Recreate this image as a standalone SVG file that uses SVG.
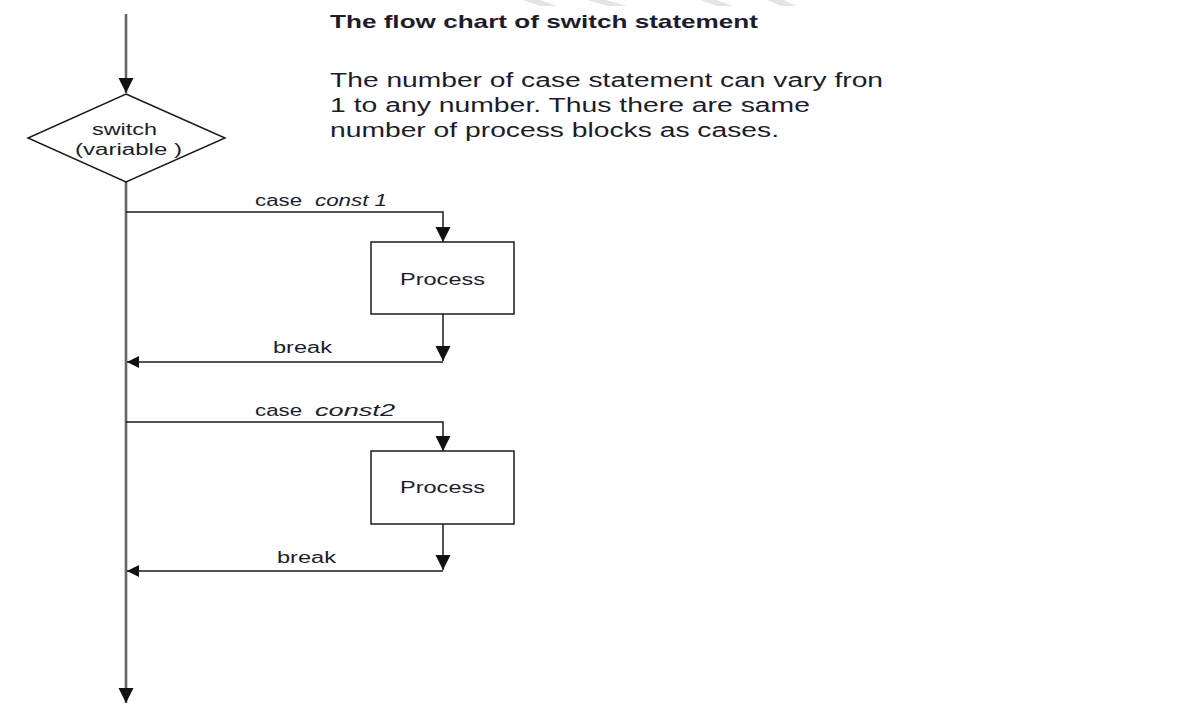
<svg xmlns="http://www.w3.org/2000/svg" width="1189" height="706" viewBox="0 0 1189 706">
  <style>
    .ln { fill: none; stroke: #1a1a1a; stroke-width: 1.5; }
    .main { fill: none; stroke: #666; stroke-width: 2.6; }
    .shape { fill: #fff; stroke: #1a1a1a; stroke-width: 1.5; }
    .t { font-family: "Liberation Sans", Arial, sans-serif; fill: #1c1c2c; }
    .lbl { font-size: 16px; }
    .it { font-style: italic; }
    .wm { fill: #e4e4e4; }
  </style>
  <defs>
    <marker id="arr" viewBox="0 0 10 10" refX="10" refY="5" markerWidth="15" markerHeight="16" markerUnits="userSpaceOnUse" orient="auto">
      <path d="M0,0 L10,5 L0,10 Z" fill="#111"/>
    </marker>
    <marker id="arrL" viewBox="0 0 10 10" refX="10" refY="5" markerWidth="22" markerHeight="12" markerUnits="userSpaceOnUse" orient="auto">
      <path d="M0,0 L10,5 L0,10 Z" fill="#111"/>
    </marker>
  </defs>
  <rect width="1189" height="706" fill="#fff"/>

  <!-- faint background marks along the top edge -->
  <g id="marks">
    <polygon class="wm" points="523,0 540,0 557,6 540,6"/>
    <polygon class="wm" points="587,0 606,0 627,6 608,6"/>
    <polygon class="wm" points="700,0 716,0 733,6 717,6"/>
    <polygon class="wm" points="767,0 783,0 797,6 781,6"/>
  </g>

  <!-- heading and note -->
  <g id="note">
    <text class="t" x="330" y="28" font-size="19" font-weight="bold" textLength="428" lengthAdjust="spacingAndGlyphs">The flow chart of switch statement</text>
    <text class="t" x="330" y="87" font-size="19.5" textLength="553" lengthAdjust="spacingAndGlyphs">The number of case statement can vary fron</text>
    <text class="t" x="330" y="112" font-size="19.5" textLength="480" lengthAdjust="spacingAndGlyphs">1 to any number. Thus there are same</text>
    <text class="t" x="330" y="137" font-size="19.5" textLength="449" lengthAdjust="spacingAndGlyphs">number of process blocks as cases.</text>
  </g>

  <!-- connectors -->
  <g id="connectors">
    <line class="main" x1="126" y1="14" x2="126" y2="93" marker-end="url(#arr)"/>
    <line class="main" x1="126" y1="182" x2="126" y2="703" marker-end="url(#arr)"/>
    <polyline class="ln" points="126,212 443,212 443,242" marker-end="url(#arr)"/>
    <line class="ln" x1="443" y1="314" x2="443" y2="361" marker-end="url(#arr)"/>
    <line class="ln" x1="443" y1="362" x2="127" y2="362" marker-end="url(#arrL)"/>
    <polyline class="ln" points="126,422 443,422 443,451" marker-end="url(#arr)"/>
    <line class="ln" x1="443" y1="524" x2="443" y2="570" marker-end="url(#arr)"/>
    <line class="ln" x1="443" y1="571" x2="127" y2="571" marker-end="url(#arrL)"/>
    <text class="t lbl" x="255" y="206" textLength="47" lengthAdjust="spacingAndGlyphs">case</text>
    <text class="t lbl it" x="315" y="206" textLength="72" lengthAdjust="spacingAndGlyphs">const 1</text>
    <text class="t lbl" x="273" y="353" textLength="59" lengthAdjust="spacingAndGlyphs">break</text>
    <text class="t lbl" x="255" y="416" textLength="47" lengthAdjust="spacingAndGlyphs">case</text>
    <text class="t lbl it" x="315" y="416" textLength="80" lengthAdjust="spacingAndGlyphs">const2</text>
    <text class="t lbl" x="277" y="563" textLength="59" lengthAdjust="spacingAndGlyphs">break</text>
  </g>

  <!-- decision -->
  <g id="switch">
    <polygon class="shape" points="126,94 225,138 126,182 28,138"/>
    <text class="t" x="92" y="135" font-size="16" textLength="65" lengthAdjust="spacingAndGlyphs">switch</text>
    <text class="t" x="75" y="155" font-size="16" textLength="107" lengthAdjust="spacingAndGlyphs">(variable )</text>
  </g>

  <!-- process blocks -->
  <g id="process1">
    <rect class="shape" x="371" y="242" width="143" height="72"/>
    <text class="t" x="400" y="285" font-size="16.5" textLength="85" lengthAdjust="spacingAndGlyphs">Process</text>
  </g>
  <g id="process2">
    <rect class="shape" x="371" y="451" width="143" height="73"/>
    <text class="t" x="400" y="493" font-size="16.5" textLength="85" lengthAdjust="spacingAndGlyphs">Process</text>
  </g>
</svg>
